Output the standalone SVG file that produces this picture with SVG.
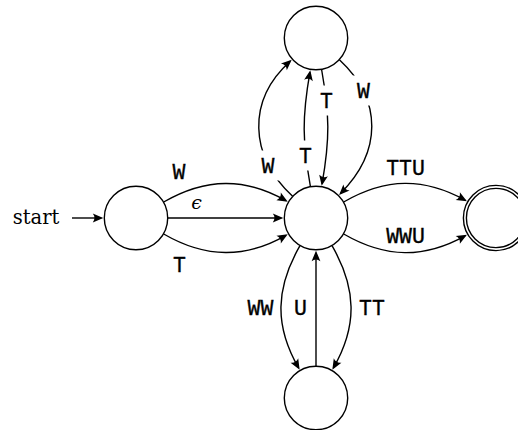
<svg xmlns="http://www.w3.org/2000/svg" width="518" height="430" viewBox="0 0 518 430">
  <defs>
    <style>
      .state circle { fill: #fff; stroke: #000; stroke-width: 1.4; }
      .edges path { fill: none; stroke: #000; stroke-width: 1.4; marker-end: url(#tip); }
      .lbl { font-family: "Liberation Mono", monospace; font-size: 21.5px; text-anchor: middle; fill: #000; stroke: #000; stroke-width: 0.35; }
      .mask { fill: #fff; }
      .rm { font-family: "DejaVu Serif", "Liberation Serif", serif; fill: #000; }
    </style>
    <!-- dart-shaped arrow tip; the tip sits 2px beyond the path end -->
    <marker id="tip" markerUnits="userSpaceOnUse" markerWidth="14" markerHeight="12" refX="9.5" refY="5" orient="auto" overflow="visible">
      <path d="M11.5,5 L1,0.6 Q4.3,5 1,9.4 Z" fill="#000"/>
    </marker>
  </defs>

  <rect width="518" height="430" fill="#fff"/>

  <!-- transitions -->
  <g id="edges" class="edges">
    <path d="M72,218 H101.3"/>
    <path d="M167.7,218 H281.3"/>
    <path d="M163.7,202 C206,177.5 245.5,177.5 286,200.65"/>
    <path d="M163.7,234 C206,258.5 245.5,258.5 286,235.35"/>
    <path d="M292.6,196.2 C248.7,155.3 247.1,100 290.2,61.2"/>
    <path d="M339.4,59.8 C383.3,100.7 381.5,152.5 340.5,193.5"/>
    <path d="M310.4,186.5 C302.4,141.2 301.95,117.5 309.95,72.2"/>
    <path d="M321.6,69.5 C329.6,114.8 330.05,138.5 322.05,183.8"/>
    <path d="M343.7,202 C386.1,177.5 424,177.5 465.2,200.2"/>
    <path d="M343.7,234 C386.1,258.5 424,258.5 465.2,235.8"/>
    <path d="M300,245.7 C275.5,288.1 274.15,325.5 298.65,367.9"/>
    <path d="M332,245.7 C356.5,288.1 357.85,325.5 333.35,367.9"/>
    <path d="M316,366 V252.7"/>
  </g>

  <!-- transition labels -->
  <g id="labels">
    <text class="rm" x="12.7" y="224.3" font-size="19.5">start</text>
    <text class="lbl" x="179" y="179">W</text>
    <text class="rm" x="196.7" y="208.5" font-size="19" font-style="italic" text-anchor="middle">ϵ</text>
    <text class="lbl" x="179.5" y="272">T</text>

    <rect class="mask" x="256" y="150.5" width="24" height="30"/>
    <text class="lbl" x="268" y="173">W</text>
    <rect class="mask" x="293.5" y="140.5" width="24" height="30"/>
    <text class="lbl" x="305.5" y="163">T</text>
    <rect class="mask" x="314.5" y="85.5" width="24" height="30"/>
    <text class="lbl" x="326.5" y="108">T</text>
    <rect class="mask" x="351.5" y="75.5" width="24" height="30"/>
    <text class="lbl" x="363.5" y="98">W</text>

    <text class="lbl" x="405.5" y="175">TTU</text>
    <text class="lbl" x="405.5" y="243">WWU</text>
    <text class="lbl" x="260.5" y="315">WW</text>
    <text class="lbl" x="300.5" y="315">U</text>
    <text class="lbl" x="372" y="315">TT</text>
  </g>

  <!-- states -->
  <g id="q0" class="state"><circle cx="136" cy="218" r="31.7"/></g>
  <g id="q1" class="state"><circle cx="316" cy="218" r="31.7"/></g>
  <g id="q2" class="state"><circle cx="316" cy="38" r="31.7"/></g>
  <g id="q3" class="state"><circle cx="316" cy="398" r="31.7"/></g>
  <g id="q4" class="state">
    <circle cx="496" cy="218" r="32.6"/>
    <circle cx="496" cy="218" r="29.6"/>
  </g>
</svg>
